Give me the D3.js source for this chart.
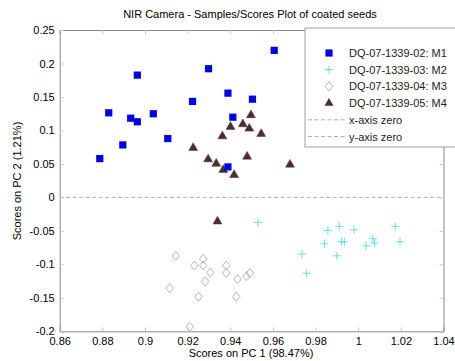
<!DOCTYPE html>
<html><head><meta charset="utf-8">
<script src="https://cdn.jsdelivr.net/npm/d3@7"></script>
<style>body{margin:0;background:#fff}svg{display:block;font-family:"Liberation Sans",Arial,sans-serif}</style>
</head><body>
<svg id="c" width="455" height="361"></svg>
<script>
const titleText = "NIR Camera - Samples/Scores Plot of coated seeds";
const xLabel = "Scores on PC 1 (98.47%)";
const yLabel = "Scores on PC 2 (1.21%)";
const xTicks = [0.86,0.88,0.90,0.92,0.94,0.96,0.98,1.00,1.02,1.04];
const yTicks = [-0.2,-0.15,-0.1,-0.05,0,0.05,0.1,0.15,0.2,0.25];
const seriesNames = ["DQ-07-1339-02: M1","DQ-07-1339-03: M2","DQ-07-1339-04: M3","DQ-07-1339-05: M4"];
const lineNames = ["x-axis zero","y-axis zero"];

const m1x = [0.9606,0.9298,0.8964,0.9389,0.9223,0.9504,0.8830,0.9039,0.8933,0.8964,0.9412,0.9107,0.8896,0.8788,0.9389];
const m1y = [0.2196,0.1922,0.1826,0.1557,0.1433,0.1467,0.1263,0.1249,0.1183,0.1129,0.1198,0.0879,0.0784,0.0579,0.0455];
const m2x = [0.9530,0.9858,0.9911,0.9980,1.0174,0.9842,0.9922,0.9935,1.0037,1.0069,1.0077,1.0196,0.9736,0.9900,0.9758];
const m2y = [-0.0374,-0.0494,-0.0434,-0.0484,-0.0434,-0.0693,-0.0663,-0.0663,-0.0723,-0.0618,-0.0683,-0.0663,-0.0847,-0.0873,-0.1132];
const m3x = [0.9145,0.9231,0.9273,0.9273,0.9306,0.9282,0.9381,0.9381,0.9434,0.9476,0.9492,0.9115,0.9251,0.9428,0.9210];
const m3y = [-0.0873,-0.1018,-0.0918,-0.1018,-0.1123,-0.1257,-0.1018,-0.1132,-0.1222,-0.1177,-0.1132,-0.1356,-0.1482,-0.1482,-0.1931];
const m4x = [0.9497,0.9401,0.9459,0.9489,0.9363,0.9545,0.9226,0.9479,0.9296,0.9334,0.9367,0.9418,0.9680,0.9340];
const m4y = [0.1228,0.1054,0.1093,0.1028,0.0913,0.0949,0.0740,0.0609,0.0569,0.0504,0.0410,0.0335,0.0490,-0.0359];

const svg = d3.select("#c");
const L = 59.7, R = 443.5, T = 30, B = 331.3;
const x = d3.scaleLinear().domain([0.86,1.04]).range([L,R]);
const y = d3.scaleLinear().domain([-0.2,0.25]).range([B,T]);
const axisCol = "#8a8a8a";

// zero line
svg.append("line").attr("x1",L).attr("x2",R).attr("y1",y(0)).attr("y2",y(0))
  .attr("stroke","#b0b0b0").attr("stroke-width",1).attr("stroke-dasharray","4,2.5");

// axes
const fmt = d => (Math.round(d*100)/100).toString();
const gx = svg.append("g").attr("transform",`translate(0,${B})`)
  .call(d3.axisBottom(x).tickValues(xTicks).tickSize(-4).tickPadding(6).tickFormat(fmt));
const gxt = svg.append("g").attr("transform",`translate(0,${T})`)
  .call(d3.axisTop(x).tickValues(xTicks).tickSize(-4).tickFormat(""));
const gy = svg.append("g").attr("transform",`translate(${L},0)`)
  .call(d3.axisLeft(y).tickValues(yTicks).tickSize(-4).tickPadding(5).tickFormat(fmt));
const gyr = svg.append("g").attr("transform",`translate(${R},0)`)
  .call(d3.axisRight(y).tickValues(yTicks).tickSize(-4).tickFormat(""));
[gx,gxt,gy,gyr].forEach(g=>{
  g.selectAll("path").attr("stroke",axisCol);
  g.selectAll("line").attr("stroke","#c8c8c8");
  g.selectAll("text").attr("fill","#000").style("font-size","11px").style("font-family","'Liberation Sans',Arial,sans-serif");
});

// series
const sym = (type,size)=>d3.symbol().type(type).size(size);
const m1 = m1x.map((v,i)=>[v,m1y[i]]);
const m2 = m2x.map((v,i)=>[v,m2y[i]]);
const m3 = m3x.map((v,i)=>[v,m3y[i]]);
const m4 = m4x.map((v,i)=>[v,m4y[i]]);

function plus(g,cx,cy,s,col){
  g.append("line").attr("x1",cx-s).attr("x2",cx+s).attr("y1",cy).attr("y2",cy).attr("stroke",col).attr("stroke-width",1);
  g.append("line").attr("x1",cx).attr("x2",cx).attr("y1",cy-s).attr("y2",cy+s).attr("stroke",col).attr("stroke-width",1);
}
function diamond(g,cx,cy,col){
  g.append("path").attr("d",`M${cx},${cy-4.5}L${cx+3.8},${cy}L${cx},${cy+4.5}L${cx-3.8},${cy}Z`)
   .attr("fill","none").attr("stroke",col).attr("stroke-width",1);
}
const cM1="#0000f0", cM2="#66dede", cM3="#b4b4b4", cM4="#4a2d2d";

const gp = svg.append("g");
m3.forEach(d=>diamond(gp,x(d[0]),y(d[1]),cM3));
m2.forEach(d=>plus(gp,x(d[0]),y(d[1]),4,cM2));
gp.selectAll(".m4").data(m4).join("path").attr("class","m4")
  .attr("transform",d=>`translate(${x(d[0])},${y(d[1])})`)
  .attr("d",sym(d3.symbolTriangle,34)).attr("fill",cM4).attr("stroke",cM4).attr("stroke-width",0.5);
gp.selectAll(".m1").data(m1).join("rect").attr("class","m1")
  .attr("x",d=>x(d[0])-3.6).attr("y",d=>y(d[1])-3.6).attr("width",7.2).attr("height",7.2)
  .attr("fill",cM1);

// legend
const lg = svg.append("g");
lg.append("rect").attr("x",305).attr("y",28).attr("width",160).attr("height",119)
  .attr("fill","#fff").attr("stroke","#a0a0a0").attr("stroke-width",1);
const rowY = i => 53 + i*16.7;
const tx = 349, mx = 329;
const labels = seriesNames.concat(lineNames);
labels.forEach((t,i)=>{
  lg.append("text").attr("x",tx).attr("y",rowY(i)+4).text(t)
    .style("font-size","11px").attr("fill","#222");
});
lg.append("rect").attr("x",mx-3.6).attr("y",rowY(0)-3.6).attr("width",7.2).attr("height",7.2).attr("fill",cM1);
plus(lg,mx,rowY(1),4,cM2);
diamond(lg,mx,rowY(2),cM3);
lg.append("path").attr("transform",`translate(${mx},${rowY(3)})`).attr("d",sym(d3.symbolTriangle,34)).attr("fill",cM4);
[4,5].forEach(i=>{
  lg.append("line").attr("x1",308).attr("x2",345).attr("y1",rowY(i)).attr("y2",rowY(i))
    .attr("stroke","#b0b0b0").attr("stroke-dasharray","4,2.5");
});

// titles
svg.append("text").attr("x",250).attr("y",18).attr("text-anchor","middle").text(titleText).style("font-size","11px");
svg.append("text").attr("x",251).attr("y",357).attr("text-anchor","middle").text(xLabel).style("font-size","11px");
svg.append("text").attr("transform","translate(21,181) rotate(-90)").attr("text-anchor","middle").text(yLabel).style("font-size","11px");
</script>
</body></html>
